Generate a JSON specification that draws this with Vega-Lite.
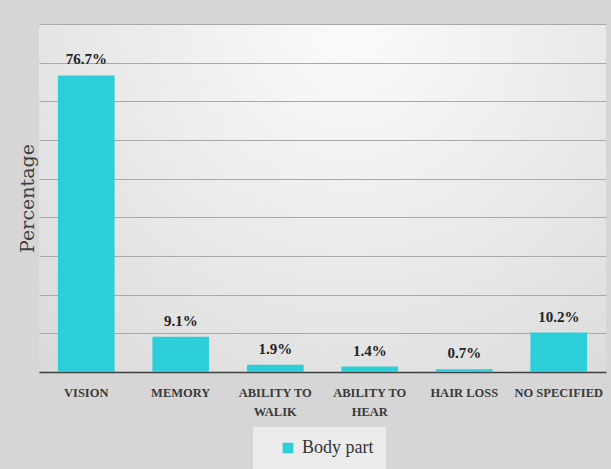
{
  "$schema": "https://vega.github.io/schema/vega-lite/v6.json",
  "width": 567,
  "height": 348,
  "padding": {"top": 24, "left": 18, "right": 5, "bottom": 0},
  "background": "#d6d6d6",
  "config": {
    "view": {
      "stroke": null,
      "fill": {
        "gradient": "radial",
        "x1": 0.55, "y1": 0.2, "x2": 0.55, "y2": 0.2,
        "r1": 0, "r2": 0.85,
        "stops": [
          {"offset": 0, "color": "#fbfbfb"},
          {"offset": 1, "color": "#d8d8d8"}
        ]
      }
    }
  },
  "data": {
    "values": [
      {"part": "VISION", "value": 76.7, "label": "76.7%", "series": "Body part"},
      {"part": "MEMORY", "value": 9.1, "label": "9.1%", "series": "Body part"},
      {"part": "ABILITY TO|WALIK", "value": 1.9, "label": "1.9%", "series": "Body part"},
      {"part": "ABILITY TO|HEAR", "value": 1.4, "label": "1.4%", "series": "Body part"},
      {"part": "HAIR LOSS", "value": 0.7, "label": "0.7%", "series": "Body part"},
      {"part": "NO SPECIFIED", "value": 10.2, "label": "10.2%", "series": "Body part"}
    ]
  },
  "encoding": {
    "x": {
      "field": "part",
      "type": "nominal",
      "sort": null,
      "scale": {"paddingInner": 0.4, "paddingOuter": 0.2},
      "axis": {
        "title": null,
        "labelAngle": 0,
        "labelExpr": "split(datum.label, '|')",
        "labelFont": "Liberation Serif",
        "labelFontWeight": "bold",
        "labelFontSize": 12.5,
        "labelColor": "#3a3a3a",
        "labelPadding": 14,
        "labelLineHeight": 19,
        "ticks": false,
        "domainColor": "#404040",
        "domainWidth": 1.5,
        "grid": false
      }
    },
    "y": {
      "field": "value",
      "type": "quantitative",
      "scale": {"domain": [0, 90], "nice": false},
      "axis": {
        "title": "Percentage",
        "titleFont": "DejaVu Serif",
        "titleFontWeight": "normal",
        "titleFontSize": 19,
        "titleColor": "#404040",
        "titlePadding": 2,
        "labels": false,
        "ticks": false,
        "domain": false,
        "values": [0, 10, 20, 30, 40, 50, 60, 70, 80, 90],
        "gridColor": "#a9a9a9",
        "gridWidth": 1
      }
    }
  },
  "layer": [
    {
      "mark": {"type": "bar"},
      "encoding": {
        "color": {
          "field": "series",
          "type": "nominal",
          "scale": {"range": ["#2ccfd8"]},
          "legend": {
            "title": null,
            "orient": "none",
            "legendX": 214,
            "legendY": 403,
            "symbolType": "square",
            "symbolSize": 110,
            "symbolStrokeWidth": 0,
            "symbolOffset": 14,
            "labelOffset": 5,
            "labelFont": "Liberation Serif",
            "labelFontSize": 18,
            "labelColor": "#333333",
            "fillColor": "#ebebeb",
            "padding": 12
          }
        }
      }
    },
    {
      "mark": {
        "type": "text",
        "baseline": "bottom",
        "dy": -8,
        "font": "Liberation Serif",
        "fontWeight": "bold",
        "fontSize": 15,
        "color": "#222222"
      },
      "encoding": {"text": {"field": "label"}}
    }
  ]
}
